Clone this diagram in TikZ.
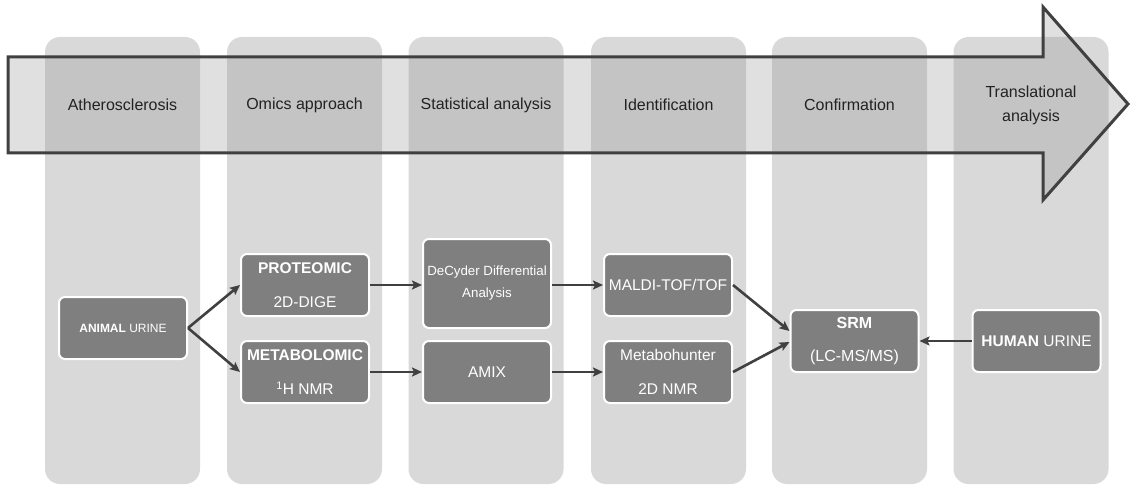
\documentclass[tikz,border=0pt]{standalone}
\usepackage{fontspec}
\setmainfont{Liberation Sans}
\usetikzlibrary{arrows.meta,calc}
\definecolor{colfill}{HTML}{D9D9D9}
\definecolor{boxfill}{HTML}{7F7F7F}
\definecolor{ink}{HTML}{404040}
\definecolor{headtxt}{HTML}{222222}
\definecolor{bandfill}{HTML}{898989}
\tikzset{
  column/.style={fill=colfill, rounded corners=15pt, minimum width=155pt,
    minimum height=447pt, inner sep=0pt},
  band/.style={draw=ink, line width=3pt, fill=bandfill, fill opacity=0.26,
    line join=miter},
  stage/.style={text=headtxt, font=\fontsize{16}{24}\selectfont, align=center,
    inner sep=0pt},
  stepbox/.style={fill=boxfill, draw=white, line width=2pt, rounded corners=6pt,
    minimum width=128pt, minimum height=62pt, text=white, align=center,
    font=\fontsize{15.5}{34}\selectfont, inner sep=2pt},
  conn/.style={draw=ink, line width=2.6pt,
    -{Stealth[length=10pt,width=9pt,inset=2pt]}},
}
\begin{document}
\begin{tikzpicture}[x=1pt,y=-1pt]
\useasboundingbox (0,0) rectangle (1131,486);
% stage columns
\foreach \i/\cx in {1/122.5,2/304.5,3/486,4/668.5,5/849.5,6/1031}
  \node[column] (col\i) at (\cx,260.5) {};
% workflow band with arrow head
\draw[band] (8,57) -- (1043,57) -- (1043,7) -- (1128,104) -- (1043,200)
  -- (1043,153) -- (8,153) -- cycle;
% stage titles
\node[stage] (t1) at (122.5,105) {Atherosclerosis};
\node[stage] (t2) at (304.5,105) {Omics approach};
\node[stage] (t3) at (486,105) {Statistical analysis};
\node[stage] (t4) at (668.5,105) {Identification};
\node[stage] (t5) at (849.5,105) {Confirmation};
\node[stage] (t6) at (1031,105) {Translational\\analysis};
% workflow boxes
\node[stepbox, font=\fontsize{12}{14}\selectfont] (animal) at (123,328)
  {\textbf{ANIMAL} URINE};
\node[stepbox] (prot) at (305,285) {\textbf{PROTEOMIC}\\2D-DIGE};
\node[stepbox] (meta) at (305,372) {\textbf{METABOLOMIC}\\\textsuperscript{1}H NMR};
\node[stepbox, minimum height=89pt, font=\fontsize{13.3}{22}\selectfont] (decyder)
  at (487,283.5) {DeCyder Differential\\Analysis};
\node[stepbox] (amix) at (487,372) {AMIX};
\node[stepbox] (maldi) at (668,285) {MALDI-TOF/TOF};
\node[stepbox] (mhunt) at (668,372) {Metabohunter\\2D NMR};
\node[stepbox, font=\fontsize{16}{33}\selectfont] (srm) at (854.5,341)
  {\textbf{SRM}\\(LC-MS/MS)};
\node[stepbox] (human) at (1036.5,341) {\textbf{HUMAN} URINE};
% connectors
\draw[conn] (animal.east) -- (prot.west);
\draw[conn] (animal.east) -- (meta.west);
\draw[conn] (prot.east) -- (decyder.west |- prot.east);
\draw[conn] (meta.east) -- (amix.west);
\draw[conn] (decyder.east |- maldi.west) -- (maldi.west);
\draw[conn] (amix.east) -- (mhunt.west);
\draw[conn] (maldi.east) -- ([yshift=10pt]srm.west);
\draw[conn] (mhunt.east) -- ([yshift=-1pt]srm.west);
\draw[conn] (human.west) -- (srm.east);
\end{tikzpicture}
\end{document}
